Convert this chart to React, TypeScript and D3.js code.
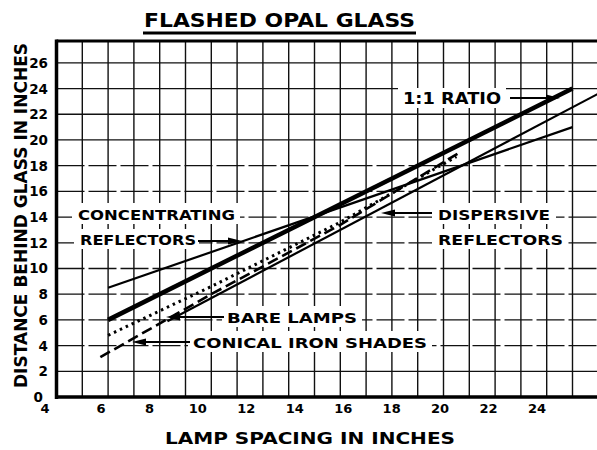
import React from 'react';
import * as d3 from 'd3';

const W = 597;
const H = 450;

const xTickValues = [4, 6, 8, 10, 12, 14, 16, 18, 20, 22, 24];
const yTickValues = [0, 2, 4, 6, 8, 10, 12, 14, 16, 18, 20, 22, 24, 26];
const xGridValues = [5, 6, 7, 8, 9, 10, 11, 12, 13, 14, 15, 16, 17, 18, 19, 20, 21, 22, 23, 24];
const yGridValues = [2, 4, 6, 8, 10, 12, 14, 16, 18, 20, 22, 24, 26];

const ratioX = [6, 24];
const ratioY = [6, 24];
const concentratingX = [6, 24];
const concentratingY = [8.5, 21.0];
const dispersiveX = [8.3, 25];
const dispersiveY = [5.9, 23.6];
const bareLampsX = [6, 10, 15, 19.5];
const bareLampsY = [4.8, 8.6, 13.6, 18.7];
const conicalX = [5.7, 10, 15, 19.6];
const conicalY = [3.1, 8.0, 13.4, 19.0];

const FONT = "'DejaVu Sans', sans-serif";

export default function App() {
  const x = d3.scaleLinear().domain([4, 25]).range([56.5, 598.3]);
  const y = d3.scaleLinear().domain([0, 27.7]).range([397, 41]);
  const xLabel = d3.scaleLinear().domain([4, 6, 24]).range([45, 101, 537]);

  const line = d3.line<[number, number]>().x(d => x(d[0])).y(d => y(d[1]));
  const pts = (xs: number[], ys: number[]) => xs.map((v, i) => [v, ys[i]] as [number, number]);

  const arrowLeft = (x1: number, x2: number, yy: number) => (
    <g>
      <line x1={x1 + 10} x2={x2} y1={yy} y2={yy} stroke="#000" strokeWidth={2} />
      <path d={`M${x1},${yy} L${x1 + 14},${yy - 3.5} L${x1 + 14},${yy + 3.5} Z`} fill="#000" />
    </g>
  );
  const arrowRight = (x1: number, x2: number, yy: number) => (
    <g>
      <line x1={x1} x2={x2 - 10} y1={yy} y2={yy} stroke="#000" strokeWidth={2} />
      <path d={`M${x2},${yy} L${x2 - 14},${yy - 3.5} L${x2 - 14},${yy + 3.5} Z`} fill="#000" />
    </g>
  );

  const label = (t: string, x0: number, base: number, len: number, size = 14.5) => (
    <text x={x0} y={base} fontFamily={FONT} fontWeight="bold" fontSize={size}
      textLength={len} lengthAdjust="spacingAndGlyphs">{t}</text>
  );

  return (
    <svg width={W} height={H} style={{ position: 'absolute', left: 0, top: 0, background: '#fff' }}>
      <rect x={0} y={0} width={W} height={H} fill="#fff" />
      {/* title */}
      <text x={144} y={27} fontFamily={FONT} fontWeight="bold" fontSize={20}
        textLength={271} lengthAdjust="spacingAndGlyphs">FLASHED  OPAL  GLASS</text>
      <line x1={143} x2={416} y1={33} y2={33} stroke="#000" strokeWidth={2.8} />

      {/* grid */}
      {xGridValues.map(v => (
        <line key={'vx' + v} x1={x(v)} x2={x(v)} y1={y(27.7)} y2={y(0)} stroke="#111" strokeWidth={1.4} />
      ))}
      {yGridValues.map(v => (
        <line key={'hy' + v} x1={x(4)} x2={W} y1={y(v)} y2={y(v)} stroke="#111" strokeWidth={1.3}
          strokeDasharray={v >= 20 || v <= 2 ? undefined : '28,4'} />
      ))}

      {/* frame */}
      <line x1={x(4)} x2={W} y1={y(27.7)} y2={y(27.7)} stroke="#000" strokeWidth={3} />
      <line x1={x(4)} x2={x(4)} y1={y(27.7) - 1.5} y2={y(0) + 2} stroke="#000" strokeWidth={3.5} />
      <line x1={x(4) - 1.5} x2={W} y1={y(0)} y2={y(0)} stroke="#000" strokeWidth={3.5} />

      {/* label backgrounds */}
      <rect x={72} y={203} width={168} height={21} fill="#fff" />
      <rect x={74} y={229} width={125} height={20} fill="#fff" />
      <rect x={398} y={88} width={108} height={20} fill="#fff" />
      <rect x={432} y={203} width={124} height={21} fill="#fff" />
      <rect x={432} y={229} width={136} height={20} fill="#fff" />
      <rect x={222} y={306} width={140} height={21} fill="#fff" />
      <rect x={188} y={331} width={244} height={21} fill="#fff" />

      {/* data lines */}
      <path d={line(pts(concentratingX, concentratingY)) || ''} fill="none" stroke="#000" strokeWidth={2.2} />
      <path d={line(pts(dispersiveX, dispersiveY)) || ''} fill="none" stroke="#000" strokeWidth={2.2} />
      <path d={line(pts(bareLampsX, bareLampsY)) || ''} fill="none" stroke="#000" strokeWidth={3}
        strokeDasharray="2.5,4" />
      <path d={line(pts(conicalX, conicalY)) || ''} fill="none" stroke="#000" strokeWidth={2.6}
        strokeDasharray="11,5" />
      <path d={line(pts(ratioX, ratioY)) || ''} fill="none" stroke="#000" strokeWidth={4.5} />

      {/* annotations */}
      {label('1:1 RATIO', 403, 104, 98, 15)}
      {arrowRight(510, 560, 98)}
      {label('CONCENTRATING', 78, 220, 157)}
      {label('REFLECTORS', 80, 245, 116)}
      {arrowRight(198, 242, 241)}
      {label('DISPERSIVE', 438, 220, 112)}
      {label('REFLECTORS', 438, 245, 125)}
      {arrowLeft(381, 432, 213)}
      {label('BARE LAMPS', 227, 323, 130)}
      {arrowLeft(166, 224, 317)}
      {label('CONICAL IRON SHADES', 193, 348, 234)}
      {arrowLeft(132, 190, 342)}

      {/* ticks */}
      {xTickValues.map(v => (
        <text key={'xt' + v} x={xLabel(v)} y={413} textAnchor="middle" fontFamily={FONT}
          fontWeight="bold" fontSize={13}>{v}</text>
      ))}
      {yTickValues.map(v => (
        <text key={'yt' + v} x={v === 0 ? 43 : 48} y={y(v) + 5} textAnchor="end" fontFamily={FONT}
          fontWeight="bold" fontSize={13.5}>{v}</text>
      ))}

      {/* axis titles */}
      <text x={165} y={444} fontFamily={FONT} fontWeight="bold" fontSize={15}
        textLength={290} lengthAdjust="spacingAndGlyphs">LAMP SPACING IN INCHES</text>
      <text transform="translate(27,388) rotate(-90)" x={0} y={0} fontFamily={FONT} fontWeight="bold"
        fontSize={17} textLength={345} lengthAdjust="spacingAndGlyphs">DISTANCE BEHIND GLASS IN INCHES</text>
    </svg>
  );
}
